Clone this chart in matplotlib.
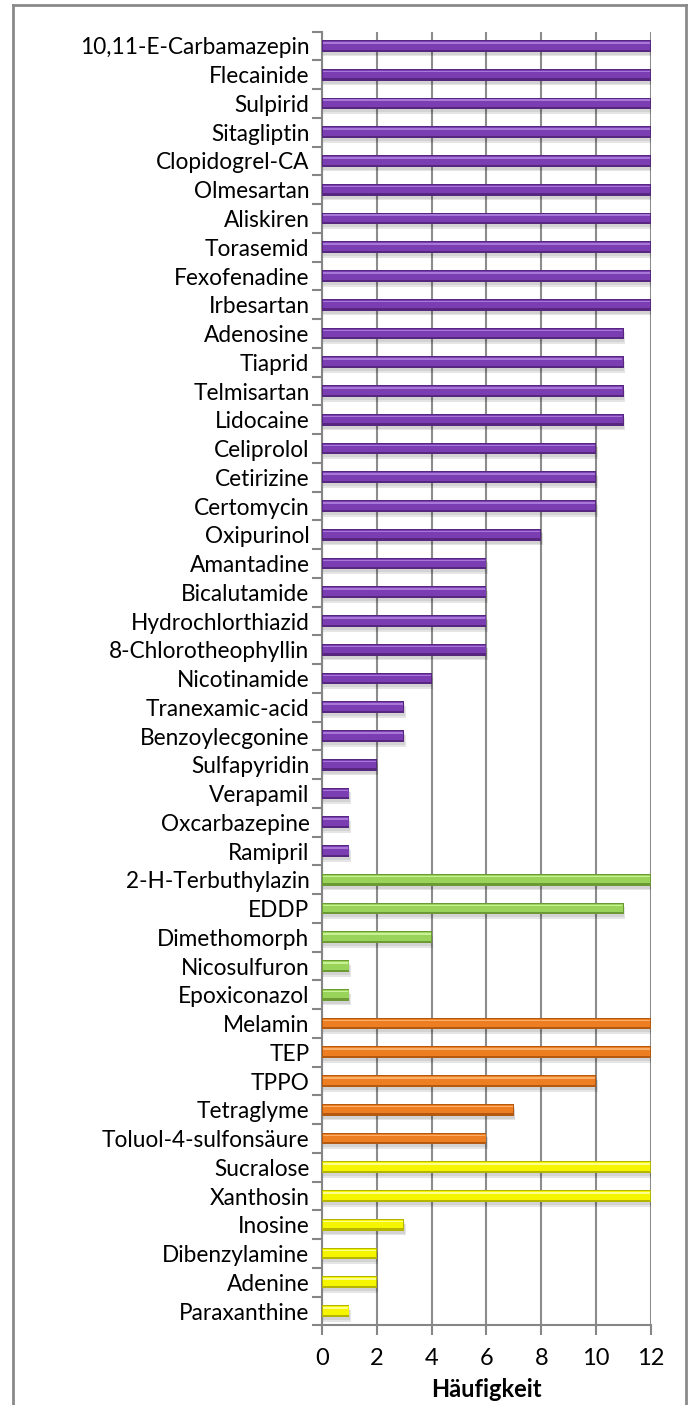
import matplotlib
matplotlib.use("Agg")
import matplotlib.pyplot as plt
import numpy as np
from matplotlib.lines import Line2D

# substances, top to bottom, grouped by colour
pharma = ["10,11-E-Carbamazepin", "Flecainide", "Sulpirid", "Sitagliptin",
          "Clopidogrel-CA", "Olmesartan", "Aliskiren", "Torasemid",
          "Fexofenadine", "Irbesartan", "Adenosine", "Tiaprid", "Telmisartan",
          "Lidocaine", "Celiprolol", "Cetirizine", "Certomycin", "Oxipurinol",
          "Amantadine", "Bicalutamide", "Hydrochlorthiazid",
          "8-Chlorotheophyllin", "Nicotinamide", "Tranexamic-acid",
          "Benzoylecgonine", "Sulfapyridin", "Verapamil", "Oxcarbazepine",
          "Ramipril"]
pharma_counts = [12, 12, 12, 12, 12, 12, 12, 12, 12, 12, 11, 11, 11, 11,
                 10, 10, 10, 8, 6, 6, 6, 6, 4, 3, 3, 2, 1, 1, 1]

pesticides = ["2-H-Terbuthylazin", "EDDP", "Dimethomorph", "Nicosulfuron",
              "Epoxiconazol"]
pesticide_counts = [12, 11, 4, 1, 1]

industrial = ["Melamin", "TEP", "TPPO", "Tetraglyme", "Toluol-4-sulfonsäure"]
industrial_counts = [12, 12, 10, 7, 6]

natural = ["Sucralose", "Xanthosin", "Inosine", "Dibenzylamine", "Adenine",
           "Paraxanthine"]
natural_counts = [12, 12, 3, 2, 2, 1]

# (dark edge, main, highlight)
styles = [
    (pharma, pharma_counts, ("#57267E", "#7B3DB2", "#A778D8")),
    (pesticides, pesticide_counts, ("#6C9A34", "#9AD35A", "#C9F296")),
    (industrial, industrial_counts, ("#B35A10", "#EE7E22", "#F9AE6A")),
    (natural, natural_counts, ("#B5B500", "#F5F500", "#FFFF90")),
]

plt.rcParams['font.family'] = ['Lato', 'DejaVu Sans']

fig = plt.figure(figsize=(6.92, 14.05), dpi=100)
ax = fig.add_axes([0.4653, 0.0566, 0.4754, 0.9209])

labels = []
pos = 0
bh = 0.41
for names, counts, (dark, main, light) in styles:
    y = np.arange(pos, pos + len(names))
    c = np.array(counts)
    # soft shadow under the bars
    ax.barh(y + 0.16, c + 0.05, height=bh, color="#000000",
            alpha=0.10, zorder=2)
    ax.barh(y + 0.10, c + 0.03, height=bh, color="#000000",
            alpha=0.08, zorder=2)
    ax.barh(y, c, height=bh, color=dark, zorder=3)
    ax.barh(y - bh * 0.06, c - 0.06, height=bh * 0.72, left=0.03,
            color=main, zorder=4)
    ax.barh(y - bh * 0.27, c - 0.08, height=bh * 0.14, left=0.04,
            color=light, zorder=5)
    labels += names
    pos += len(names)

n = len(labels)
ax.set_ylim(n - 0.5, -0.5)
ax.set_xlim(0, 12)
ax.set_yticks(np.arange(n))
ax.set_yticklabels(labels, fontsize=16.3)
ax.set_yticks(np.arange(n + 1) - 0.5, minor=True)
ax.tick_params(axis="y", which="major", length=0, pad=9)
ax.tick_params(axis="y", which="minor", length=7, width=1.5, color="#868686")
ax.set_xticks(np.arange(0, 13, 2))
ax.tick_params(axis="x", which="major", length=7, width=1.5, color="#868686",
               labelsize=17, pad=9)
ax.grid(axis="x", color="#8c8c8c", linewidth=1.5, zorder=0)
ax.set_axisbelow(True)
for s in ["top", "right"]:
    ax.spines[s].set_visible(False)
for s in ["left", "bottom"]:
    ax.spines[s].set_color("#868686")
    ax.spines[s].set_linewidth(1.5)
ax.set_xlabel("Häufigkeit", fontsize=17, fontweight="bold", labelpad=7)

# outer chart frame
W, H = 692, 1405
for xs, ys in [([13, 13], [5, H + 5]), ([686, 686], [5, H + 5]),
               ([13, 686], [5, 5])]:
    fig.add_artist(Line2D([x / W for x in xs], [1 - v / H for v in ys],
                          color="#8a8a8a", linewidth=2))

fig.savefig("out.png", dpi=100)
